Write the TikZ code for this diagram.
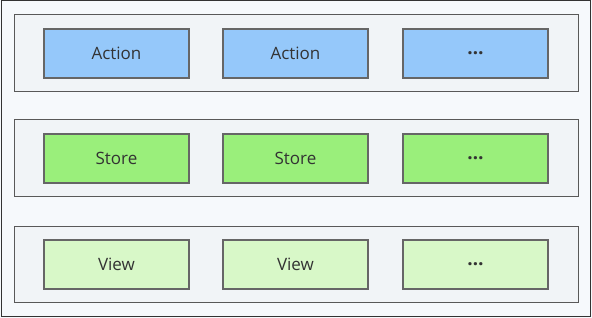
\documentclass[tikz,border=0pt]{standalone}
\usepackage{fontspec}
\setmainfont{Open Sans}
\begin{document}
\begin{tikzpicture}[x=1pt,y=-1pt,
  layer/.style={draw=black!65, line width=1pt, fill=layerbg},
  item/.style={draw=black!60, line width=1.2pt, minimum width=145pt, minimum height=49pt, inner sep=0pt, font=\fontsize{17}{20}\selectfont, text=black!80},
  actionbox/.style={item, fill=actionfill},
  storebox/.style={item, fill=storefill},
  viewbox/.style={item, fill=viewfill}]
\definecolor{pagebg}{HTML}{F6F9FC}
\definecolor{layerbg}{HTML}{F1F4F7}
\definecolor{actionfill}{HTML}{95C8FA}
\definecolor{storefill}{HTML}{9AEF7B}
\definecolor{viewfill}{HTML}{D8F8C8}
\newcommand{\moreitems}{\textbf{\fontsize{19}{20}\selectfont …}}
\useasboundingbox (0,0) rectangle (592,318);
\fill[pagebg] (0,0) rectangle (592,318);
\draw[black!80, line width=1pt] (1,1) rectangle (590,316);
% three layers
\draw[layer] (14,15) rectangle (578,92);
\draw[layer] (14,120) rectangle (578,197);
\draw[layer] (14,226) rectangle (578,302);
% actions
\node[actionbox] (a1) at (116.5,53.5) {Action};
\node[actionbox] (a2) at (295.5,53.5) {Action};
\node[actionbox] (a3) at (475.5,53.5) {\moreitems};
% stores
\node[storebox] (s1) at (116.5,158.5) {Store};
\node[storebox] (s2) at (295.5,158.5) {Store};
\node[storebox] (s3) at (475.5,158.5) {\moreitems};
% views
\node[viewbox] (v1) at (116.5,264.5) {View};
\node[viewbox] (v2) at (295.5,264.5) {View};
\node[viewbox] (v3) at (475.5,264.5) {\moreitems};
\end{tikzpicture}
\end{document}
